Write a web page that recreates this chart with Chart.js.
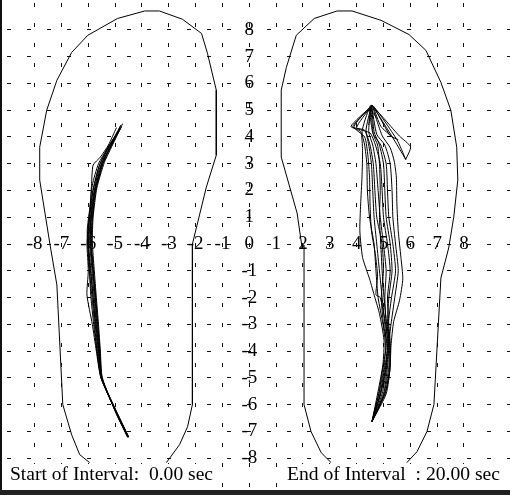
<!DOCTYPE html>
<html>
<head>
<meta charset="utf-8">
<script src="https://cdn.jsdelivr.net/npm/chart.js@4.4.0/dist/chart.umd.min.js"></script>
<style>
  html, body { margin: 0; padding: 0; background: #fff; }
  #wrap { width: 510px; height: 495px; position: relative; }
</style>
</head>
<body>
<div id="wrap"><canvas id="copChart"></canvas></div>
<script>
/* ============================================================
   DATA (units = grid cells)
   ============================================================ */
const tickValues = [-8, -7, -6, -5, -4, -3, -2, -1, 0, 1, 2, 3, 4, 5, 6, 7, 8];
const startLabel = "Start of Interval:  0.00 sec";
const endLabel = "End of Interval  : 20.00 sec";

// foot outlines, open at the heel (the text boxes sit there)
const leftFoot = [
    [-5.95, -8.17], [-6.32, -7.87], [-6.62, -7.13], [-6.95, -6.0], [-7.17, -1.53], [-7.43, 0.0],
    [-7.81, 2.39], [-7.81, 3.62], [-7.55, 5.0], [-7.17, 6.12], [-6.62, 7.16], [-6.02, 7.8],
    [-4.91, 8.43], [-3.9, 8.71], [-3.35, 8.71], [-2.49, 8.4], [-1.78, 7.87], [-1.56, 7.13],
    [-1.23, 5.75], [-1.23, 3.32], [-1.6, 2.13], [-2.12, 0.0], [-2.12, -6.0], [-2.3, -6.83],
    [-2.6, -7.5], [-3.09, -8.17]
];
const rightFoot = [
    [3.05, -8.17], [2.68, -7.8], [2.3, -7.01], [2.04, -6.0], [2.04, -0.04], [1.97, -0.15],
    [1.78, 1.16], [1.19, 3.25], [1.19, 5.75], [1.38, 6.6], [1.75, 7.8], [2.42, 8.43],
    [3.27, 8.71], [3.83, 8.71], [4.91, 8.36], [5.95, 7.83], [6.58, 7.24], [7.14, 6.04],
    [7.51, 5.0], [7.73, 3.62], [7.77, 2.39], [7.62, 1.01], [7.43, -0.15], [7.14, -1.27],
    [6.88, -6.0], [6.62, -7.01], [6.25, -7.76], [5.87, -8.17]
];

// centre of pressure, one list per step, heel -> toe
const leftTraces = [
    [[-4.52, -7.22], [-4.96, -6.3], [-5.5, -5.0], [-5.6, -4.0], [-5.68, -3.0], [-5.75, -2.0], [-5.82, -1.0], [-5.9, 0.0], [-5.85, 0.9], [-5.72, 2.0], [-5.45, 3.0], [-5.1, 3.75], [-4.78, 4.45]],
    [[-4.5, -7.2], [-4.94, -6.28], [-5.52, -5.02], [-5.66, -4.1], [-5.76, -3.1], [-5.85, -2.1], [-5.95, -1.05], [-6.02, 0.05], [-5.98, 0.7], [-5.85, 1.9], [-5.6, 2.9], [-5.25, 3.6], [-4.9, 4.2]],
    [[-4.53, -7.23], [-4.97, -6.32], [-5.48, -4.98], [-5.55, -4.0], [-5.62, -3.0], [-5.7, -2.0], [-5.78, -0.95], [-5.85, 0.1], [-5.82, 1.0], [-5.68, 2.1], [-5.4, 3.05], [-5.05, 3.8], [-4.72, 4.5]],
    [[-4.51, -7.21], [-4.95, -6.3], [-5.53, -5.0], [-5.7, -4.0], [-5.85, -3.0], [-6.05, -1.9], [-6.0, -1.0], [-6.05, 0.0], [-6.02, 0.5], [-5.92, 1.5], [-5.88, 2.2], [-5.82, 2.95], [-5.55, 3.25], [-5.25, 3.7], [-4.95, 4.35]],
    [[-4.52, -7.22], [-4.96, -6.3], [-5.51, -5.0], [-5.58, -3.9], [-5.66, -2.9], [-5.74, -1.9], [-5.84, -0.9], [-5.92, 0.1], [-5.9, 0.8], [-5.78, 1.8], [-5.52, 2.85], [-5.18, 3.65], [-4.82, 4.3]],
    [[-4.5, -7.2], [-4.93, -6.3], [-5.5, -5.0], [-5.64, -4.0], [-5.74, -3.0], [-5.82, -2.0], [-5.9, -1.0], [-5.98, -0.1], [-5.95, 0.6], [-5.85, 1.6], [-5.65, 2.6], [-5.35, 3.4], [-5.0, 4.0], [-4.86, 4.25]],
    [[-4.53, -7.22], [-4.97, -6.3], [-5.49, -5.0], [-5.56, -4.05], [-5.64, -3.05], [-5.72, -2.05], [-5.8, -1.05], [-5.88, 0.0], [-5.86, 0.9], [-5.74, 2.05], [-5.48, 3.0], [-5.12, 3.72], [-4.76, 4.38]],
    [[-4.51, -7.2], [-4.95, -6.3], [-5.52, -5.0], [-5.68, -4.0], [-5.8, -3.0], [-5.9, -2.0], [-5.96, -1.0], [-6.0, 0.0], [-5.96, 0.9], [-5.82, 2.0], [-5.58, 2.95], [-5.28, 3.6], [-4.95, 4.1], [-4.82, 4.35]],
    [[-4.52, -7.21], [-4.96, -6.29], [-5.5, -5.0], [-5.6, -4.0], [-5.7, -3.0], [-5.78, -2.0], [-5.86, -1.0], [-5.94, 0.0], [-5.9, 1.0], [-5.76, 2.0], [-5.5, 3.0], [-5.15, 3.7], [-4.85, 4.25]],
    [[-4.52, -7.22], [-4.95, -6.3], [-5.5, -5.0], [-5.62, -4.0], [-5.72, -3.0], [-5.82, -2.0], [-5.92, -1.0], [-6.0, -0.2], [-6.04, 0.5], [-5.95, 1.3], [-5.85, 2.2], [-5.62, 3.0], [-5.3, 3.55], [-5.0, 4.05], [-4.8, 4.42]]
];
const rightTraces = [
    [[4.57, -6.64], [4.8, -5.5], [4.98, -4.5], [5.02, -3.6], [4.85, -2.6], [4.68, -2.0], [4.48, -1.3], [4.22, -0.5], [4.12, 0.5], [4.15, 1.5], [4.2, 2.5], [4.22, 3.5], [4.15, 4.2], [3.79, 4.4], [4.55, 5.15]],
    [[4.57, -6.64], [5.08, -5.55], [5.24, -4.7], [5.28, -3.8], [5.38, -2.9], [5.6, -2.1], [5.72, -1.3], [5.65, -0.5], [5.55, 0.5], [5.5, 1.5], [5.48, 2.5], [5.4, 3.1], [5.25, 3.6], [4.95, 4.05], [4.62, 5.1], [5.33, 4.0], [5.83, 3.16]],
    [[4.57, -6.64], [5.02, -5.6], [5.2, -4.6], [5.22, -3.8], [5.18, -3.0], [5.3, -2.0], [5.45, -1.0], [5.35, 0.0], [5.2, 1.0], [5.15, 2.0], [5.1, 3.0], [4.9, 3.7], [4.6, 4.15], [4.52, 5.18], [5.6, 4.03], [6.01, 3.63], [5.83, 3.16]],
    [[4.57, -6.64], [4.82, -5.6], [4.98, -4.6], [5.1, -3.8], [5.05, -3.0], [4.95, -2.0], [4.85, -1.0], [4.75, 0.0], [4.65, 1.0], [4.6, 2.0], [4.55, 3.0], [4.45, 3.7], [4.3, 4.25], [3.85, 4.38], [4.5, 5.1]],
    [[4.58, -6.62], [4.9, -5.55], [5.08, -4.6], [5.15, -3.8], [5.1, -3.0], [5.05, -2.0], [5.1, -1.0], [5.0, 0.0], [4.88, 1.0], [4.8, 2.0], [4.72, 3.0], [4.6, 3.7], [4.45, 4.2], [4.57, 5.19], [4.9, 4.4], [5.33, 4.0]],
    [[4.57, -6.64], [5.1, -5.6], [5.25, -4.6], [5.26, -3.8], [5.2, -3.0], [5.15, -2.0], [5.25, -1.0], [5.15, 0.0], [5.0, 1.0], [4.95, 2.0], [4.88, 3.0], [4.7, 3.7], [4.5, 4.15], [4.0, 4.35], [4.55, 5.15]],
    [[4.57, -6.64], [4.85, -5.5], [5.02, -4.6], [5.08, -3.8], [4.98, -3.0], [4.8, -2.0], [4.72, -1.0], [4.65, 0.0], [4.48, 1.0], [4.4, 2.0], [4.38, 3.0], [4.3, 3.7], [4.2, 4.2], [4.48, 5.05], [4.75, 4.7]],
    [[4.57, -6.64], [5.05, -5.6], [5.22, -4.7], [5.24, -3.8], [5.12, -3.0], [5.02, -2.0], [4.95, -1.0], [4.9, 0.0], [4.85, 1.0], [4.88, 2.0], [4.85, 3.0], [4.78, 3.7], [4.62, 4.1], [4.57, 5.19], [5.5, 3.9], [5.83, 3.16]],
    [[4.6, -6.6], [4.88, -5.55], [5.05, -4.6], [5.18, -3.8], [5.28, -3.0], [5.42, -2.0], [5.55, -1.0], [5.45, 0.0], [5.35, 1.0], [5.32, 2.0], [5.25, 3.0], [5.05, 3.7], [4.75, 4.1], [4.55, 5.1], [4.45, 4.45]],
    [[4.57, -6.64], [4.95, -5.6], [5.12, -4.6], [5.18, -3.8], [5.08, -3.0], [4.88, -2.0], [4.72, -1.9], [4.78, -1.2], [4.7, -0.4], [4.55, 0.5], [4.5, 1.5], [4.48, 2.5], [4.42, 3.3], [4.3, 4.0], [3.9, 4.38], [4.5, 5.12]],
    [[4.57, -6.64], [5.0, -5.6], [5.15, -4.6], [5.2, -3.8], [5.15, -3.0], [5.2, -2.0], [5.32, -1.0], [5.25, 0.0], [5.1, 1.0], [5.05, 2.0], [5.0, 3.0], [4.85, 3.7], [4.65, 4.2], [4.6, 5.15], [5.25, 4.05], [5.55, 3.9]],
    [[4.57, -6.64], [4.9, -5.6], [5.1, -4.6], [5.14, -3.8], [5.0, -3.0], [4.92, -2.0], [5.0, -1.0], [4.95, 0.0], [4.75, 1.0], [4.68, 2.0], [4.62, 3.0], [4.5, 3.7], [4.35, 4.25], [4.55, 5.18]]
];

/* ============================================================
   VIEW WINDOW (so that the grid lands where the picture has it)
   ============================================================ */
const X_MIN = -9.29, X_MAX = 9.715;
const Y_MIN = -9.38, Y_MAX = 9.12;

const toPoints = arr => arr.map(p => ({ x: p[0], y: p[1] }));

function lineSet(points, tension) {
    return {
        data: toPoints(points),
        showLine: true,
        borderColor: "#000",
        borderWidth: 1,
        pointRadius: 0,
        fill: false,
        tension: tension
    };
}

const datasets = [lineSet(leftFoot, 0), lineSet(rightFoot, 0)];
leftTraces.forEach(t => datasets.push(lineSet(t, 0.2)));
rightTraces.forEach(t => datasets.push(lineSet(t, 0.2)));

/* ============================================================
   PLUGINS: axis numbers, interval texts, frame
   ============================================================ */
const axisNumbers = {
    id: "axisNumbers",
    beforeDatasetsDraw(chart) {
        const { ctx, scales } = chart;
        const x0 = scales.x.getPixelForValue(0);
        const y0 = scales.y.getPixelForValue(0);
        ctx.save();
        ctx.font = '19px "Liberation Serif", "Times New Roman", serif';
        ctx.fillStyle = "#000";
        ctx.textAlign = "center";
        ctx.textBaseline = "middle";
        tickValues.forEach(v => {
            ctx.fillText(String(v), scales.x.getPixelForValue(v), y0);
            if (v !== 0) ctx.fillText(String(v), x0, scales.y.getPixelForValue(v));
        });
        ctx.restore();
    }
};

const intervalText = {
    id: "intervalText",
    afterDraw(chart) {
        const ctx = chart.ctx;
        ctx.save();
        ctx.fillStyle = "#fff";
        ctx.fillRect(3, 464, 213, 26);
        ctx.fillRect(284, 464, 226, 26);

        ctx.fillStyle = "#000";
        ctx.font = '19px "Liberation Serif", "Times New Roman", serif';
        ctx.textBaseline = "alphabetic";
        ctx.textAlign = "left";
        // stretch to the widths seen in the picture
        let w = ctx.measureText(startLabel).width;
        ctx.save();
        ctx.translate(10, 480);
        ctx.scale(203 / w, 1);
        ctx.fillText(startLabel, 0, 0);
        ctx.restore();
        w = ctx.measureText(endLabel).width;
        ctx.save();
        ctx.translate(287, 480);
        ctx.scale(213 / w, 1);
        ctx.fillText(endLabel, 0, 0);
        ctx.restore();

        // frame: left and bottom edges
        ctx.fillStyle = "#111";
        ctx.fillRect(0, 0, 2, 495);
        ctx.fillStyle = "#222";
        ctx.fillRect(0, 490, 510, 5);
        ctx.restore();
    }
};

/* ============================================================
   CHART
   ============================================================ */
const gridOpts = { color: "#111", lineWidth: 1, drawTicks: false };

new Chart(document.getElementById("copChart"), {
    type: "scatter",
    data: { datasets: datasets },
    options: {
        responsive: true,
        maintainAspectRatio: false,
        animation: false,
        events: [],
        layout: { padding: 0, autoPadding: false },
        plugins: { legend: { display: false }, tooltip: { enabled: false } },
        scales: {
            x: {
                type: "linear",
                min: X_MIN,
                max: X_MAX,
                ticks: { display: false },
                grid: gridOpts,
                border: { display: false, dash: [4, 16], dashOffset: 17 },
                afterBuildTicks: s => { s.ticks = tickValues.map(v => ({ value: v })); }
            },
            y: {
                type: "linear",
                min: Y_MIN,
                max: Y_MAX,
                ticks: { display: false },
                grid: gridOpts,
                border: { display: false, dash: [4, 16], dashOffset: 13 },
                afterBuildTicks: s => { s.ticks = tickValues.map(v => ({ value: v })); }
            }
        }
    },
    plugins: [axisNumbers, intervalText]
});
</script>
</body>
</html>
